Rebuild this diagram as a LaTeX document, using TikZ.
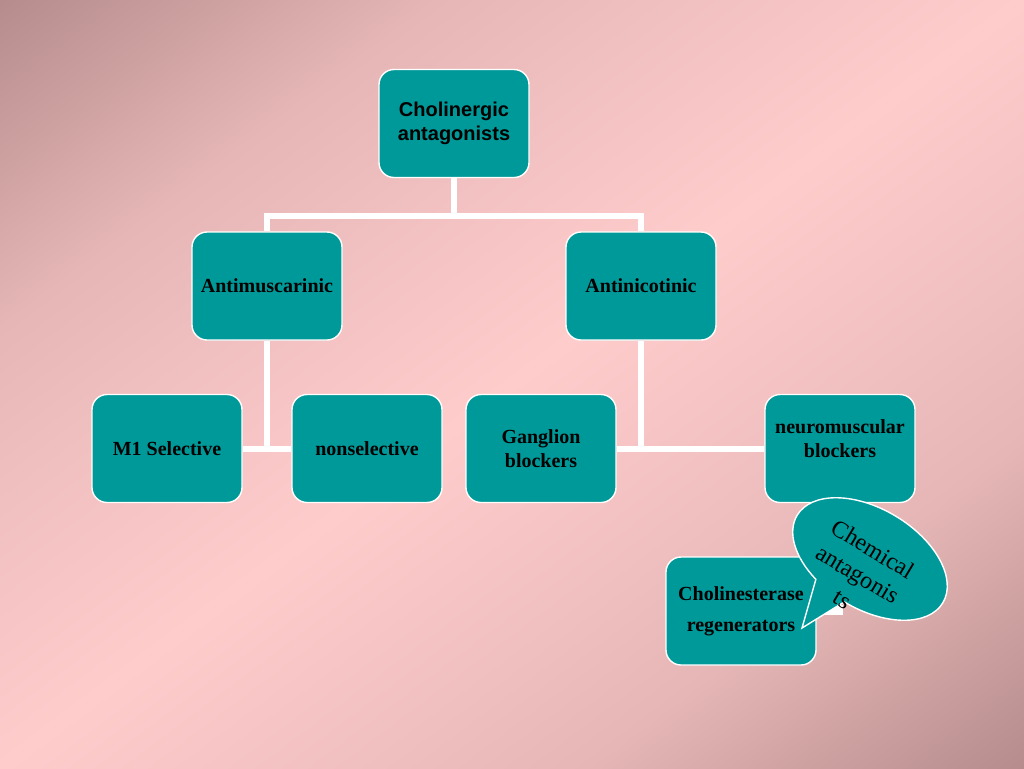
\documentclass[tikz,border=0pt]{standalone}
\usepackage{fontspec}
\setmainfont{Liberation Serif}
\newfontfamily\headfont{Liberation Sans}
\usepackage{tikz}
\usetikzlibrary{positioning}
\definecolor{boxteal}{RGB}{0,153,153}
\definecolor{blush}{RGB}{255,204,204}
\definecolor{dusk}{RGB}{166,126,126}
\colorlet{halfdusk}{blush!72!dusk}
\pgfdeclareverticalshading{slide}{100bp}{color(0bp)=(dusk); color(10bp)=(dusk); color(30bp)=(halfdusk); color(50bp)=(blush); color(70bp)=(halfdusk); color(90bp)=(dusk); color(100bp)=(dusk)}

\begin{document}
\begin{tikzpicture}[x=0.5pt,y=0.5pt,
    box/.style={draw=white, line width=0.7pt, fill=boxteal, rounded corners=7.5pt,
        minimum width=75pt, minimum height=54pt, inner sep=2pt, align=center,
        font=\bfseries\fontsize{10}{12}\selectfont},
    link/.style={draw=white, line width=3pt},
    bubble/.style={draw=white, line width=0.7pt, fill=boxteal}]
            \shade[shading=slide, shading angle=36.87] (0,0) rectangle (1024,-768);
            \useasboundingbox (0,0) rectangle (1024,-768);

            \node[box, font=\headfont\bfseries\fontsize{10}{12}\selectfont] (top) at (454,-123.5) {Cholinergic\\antagonists};
            \node[box] (am) at (267,-286) {Antimuscarinic};
            \node[box] (an) at (641,-286) {Antinicotinic};
            \node[box] (m1) at (167,-448.5) {M1 Selective};
            \node[box] (ns) at (367,-448.5) {nonselective};
            \node[box] (gb) at (541,-448.5) {Ganglion\\blockers};
            \node[box, label={[align=center, font=\bfseries\fontsize{10}{12}\selectfont, yshift=5pt]center:neuromuscular\\blockers}] (nm) at (840,-448.5) {};
            \node[box] (cr) at (741,-611) {Cholinesterase\\[3.5pt]regenerators};

            \draw[link](top.south) -- ++(0,-38) -| (am.north);
            \draw[link](top.south) -- ++(0,-38) -| (an.north);
            \draw[link](am) -- (am |- m1);
            \draw[link](m1) -- (ns);
            \draw[link](an) -- (an |- gb);
            \draw[link](gb) -- (nm);

            \coordinate (stub) at (843,-610);
            \draw[link, line width=5pt](cr.east |- stub) -- (stub);

            \coordinate (tip) at (802,-628);
            \begin{scope}[shift={(870,-559)}, rotate=-31]
            \draw[bubble] (270:85 and 50) arc[start angle=270, end angle=605, x radius=85, y radius=50] -- (tip) -- cycle;
            \end{scope}
            \node[rotate=-31, align=center, inner sep=0pt, font=\fontsize{12}{14.5}\selectfont] (chem) at (858,-574) {Chemical\\antagonis\\ts};

            \end{tikzpicture}
\end{document}
